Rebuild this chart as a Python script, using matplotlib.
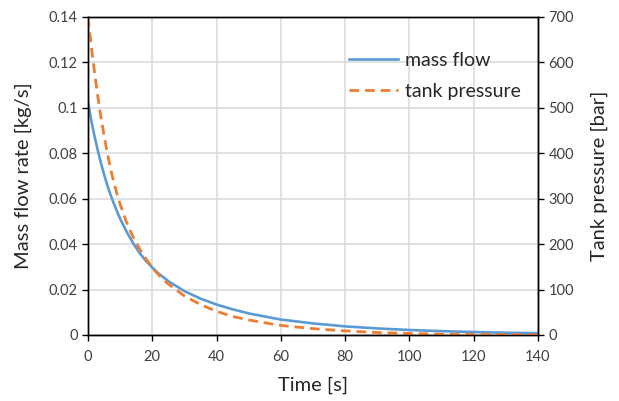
import numpy as np
import matplotlib

matplotlib.use("Agg")

import matplotlib.pyplot as plt

plt.rcParams["font.family"] = ["Lato", "DejaVu Sans"]

# values
time_s = [0, 1, 2, 3, 4, 5, 6, 7, 8, 9, 10, 12, 14, 16, 18, 20, 22, 25, 30,
          35, 40, 45, 50, 60, 70, 80, 90, 100, 110, 120, 130, 140]
mass_flow = [0.1025, 0.0946, 0.0877, 0.0815, 0.0758, 0.0707, 0.066, 0.0618,
             0.058, 0.0545, 0.0512, 0.0455, 0.0405, 0.0362, 0.0327, 0.0297,
             0.027, 0.0237, 0.0193, 0.016, 0.0134, 0.0113, 0.0095, 0.0068,
             0.0051, 0.0038, 0.0029, 0.0022, 0.0017, 0.0013, 0.001, 0.0008]
tank_pressure = [700, 637, 580, 528, 481, 439, 401, 367, 337, 311, 288, 248,
                 216, 190, 168, 148, 132, 112, 86, 67, 52, 41, 33, 21, 14, 9,
                 5.5, 3.3, 2, 1.2, 0.7, 0.4]

x_ticks = [0, 20, 40, 60, 80, 100, 120, 140]
flow_ticks = [0, 0.02, 0.04, 0.06, 0.08, 0.1, 0.12, 0.14]
flow_ticklabels = ["0", "0.02", "0.04", "0.06", "0.08", "0.1", "0.12", "0.14"]
pressure_ticks = [0, 100, 200, 300, 400, 500, 600, 700]

blue = "#5B9BD5"
orange = "#ED7D31"
grid = "#D9D9D9"

fig = plt.figure(figsize=(6.19, 4.01), dpi=100)
ax = fig.add_axes([88 / 619, 1 - 335 / 401, 450 / 619, 318 / 401])
ax2 = ax.twinx()

l1, = ax.plot(time_s, mass_flow, color=blue, lw=1.9, label="mass flow",
              solid_joinstyle="round")
l2, = ax2.plot(time_s, tank_pressure, color=orange, lw=2.0, ls=(0, (3.5, 2.1)),
               label="tank pressure")

ax.set_xlim(0, 140)
ax.set_ylim(0, 0.14)
ax2.set_ylim(0, 700)
ax.set_xticks(x_ticks)
ax.set_yticks(flow_ticks)
ax.set_yticklabels(flow_ticklabels)
ax2.set_yticks(pressure_ticks)

ax.grid(True, color=grid, lw=1.1)
ax.set_axisbelow(True)

for a in (ax, ax2):
    for s in a.spines.values():
        s.set_color("black")
        s.set_linewidth(1.0)
    a.tick_params(direction="out", length=4, width=1.0, colors="black",
                  labelsize=10.5, labelcolor="#404040")
ax.tick_params(axis="x", pad=7)

ax.set_xlabel("Time [s]", fontsize=14.5, color="#262626", labelpad=9)
ax.set_ylabel("Mass flow rate [kg/s]", fontsize=14.5, color="#262626", labelpad=12)
ax2.set_ylabel("Tank pressure [bar]", fontsize=14.5, color="#262626", labelpad=12)

ax2.legend([l1, l2], ["mass flow", "tank pressure"], loc="upper left",
           bbox_to_anchor=(0.542, 0.945), frameon=False, fontsize=14,
           handlelength=2.5, handletextpad=0.35, labelspacing=0.7,
           labelcolor="#262626")

fig.savefig("out.png", dpi=100)
